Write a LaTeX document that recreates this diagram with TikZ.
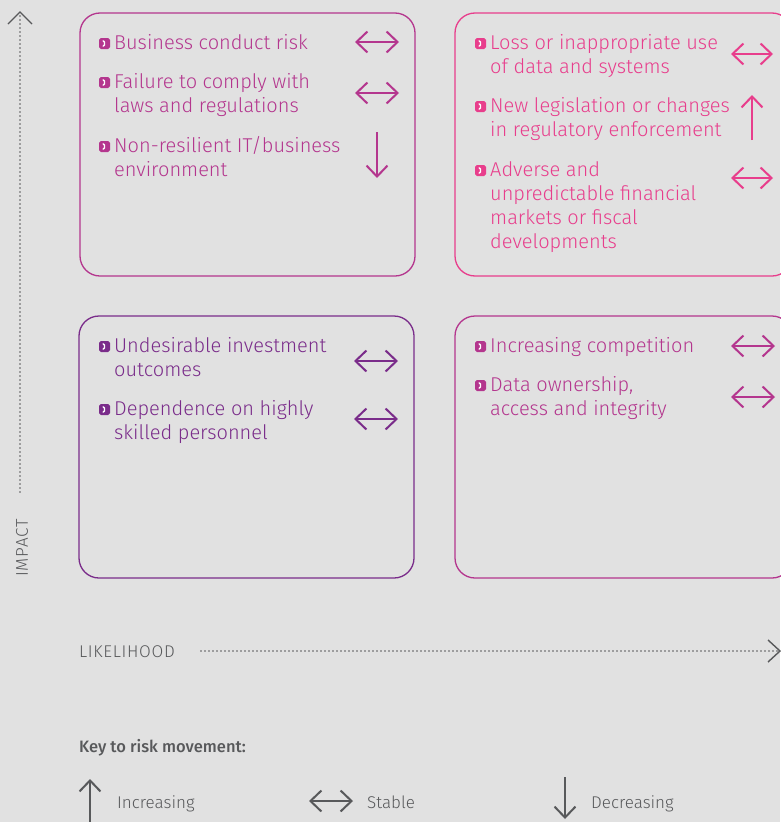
\documentclass[tikz,border=0pt]{standalone}
\usepackage{fontspec}
\setmainfont{Fira Sans}[UprightFont=* Light, BoldFont=* Medium]
\usetikzlibrary{arrows.meta,calc}
\definecolor{bg}{HTML}{E1E1E1}
\definecolor{mag}{HTML}{B4368E}
\definecolor{pnk}{HTML}{E83E8C}
\definecolor{prp}{HTML}{7A2C8A}
\definecolor{gry}{HTML}{58595B}
\begin{document}
\begin{tikzpicture}[x=1pt,y=-1pt,
  quad/.style={draw=#1, line width=1.3, rounded corners=20},
  item/.style={text=#1, inner sep=0, anchor=base west, align=left,
    font=\fontsize{20}{24}\selectfont},
  bul/.style={fill=#1, rounded corners=1.8, minimum size=11, inner sep=0,
    path picture={\draw[white, line width=1.4, line cap=round, line join=miter]
      ($(path picture bounding box.center)+(-1.3,-2.6)$) -- ++(2.6,2.6) -- ++(-2.6,2.6);}},
  mv/.style={draw=#1, line width=2,
    {Straight Barb[length=11,width=21]}-{Straight Barb[length=11,width=21]}},
  mvend/.style={draw=#1, line width=2, -{Straight Barb[length=11,width=21]}},
  dots/.style={draw=gry, line width=1.7, line cap=round, dash pattern=on 0pt off 4pt},
  axlbl/.style={text=gry, inner sep=0, font=\fontsize{17}{20}\selectfont\addfontfeature{LetterSpace=4}},
  key/.style={text=gry, inner sep=0, anchor=base west, font=\fontsize{17}{20}\selectfont},
]
\fill[bg] (0,0) rectangle (780,822);
\useasboundingbox (0,0) rectangle (780,822);

% quadrants
\draw[quad=mag] (80,13) rectangle (415,276);
\draw[quad=pnk] (455,13) rectangle (792,276);
\draw[quad=prp] (79,316) rectangle (414,578);
\draw[quad=mag] (455,316) rectangle (792,578);

% top-left (node base = baseline of last line)
\node[item=mag] (t1) at (114,49) {Business conduct risk};
\node[item=mag] (t2) at (114,112) {Failure to comply with\\laws and regulations};
\node[item=mag] (t3) at (114,176) {Non-resilient IT/business\\environment};
\foreach \n/\k in {t1/0,t2/1,t3/1}{\node[bul=mag] at ($(\n.base west)+(-9.5,-5.5-24*\k)$) {};}
\draw[mv=mag] (355,42) -- (399,42);
\draw[mv=mag] (355,93) -- (399,93);
\draw[mvend=mag] (377,132) -- (377,178);

% top-right
\node[item=pnk] (r1) at (490,73) {Loss or inappropriate use\\of data and systems};
\node[item=pnk] (r2) at (490,136) {New legislation or changes\\in regulatory enforcement};
\node[item=pnk] (r3) at (490,248) {Adverse and\\unpredictable financial\\markets or fiscal\\developments};
\foreach \n/\k in {r1/1,r2/1,r3/3}{\node[bul=pnk] at ($(\n.base west)+(-9.5,-5.5-24*\k)$) {};}
\draw[mv=pnk] (731,54) -- (773,54);
\draw[mvend=pnk] (752,140) -- (752,95);
\draw[mv=pnk] (731,178) -- (773,178);

% bottom-left
\node[item=prp] (l1) at (114,376) {Undesirable investment\\outcomes};
\node[item=prp] (l2) at (114,439) {Dependence on highly\\skilled personnel};
\foreach \n/\k in {l1/1,l2/1}{\node[bul=prp] at ($(\n.base west)+(-9.5,-5.5-24*\k)$) {};}
\draw[mv=prp] (354,361) -- (398,361);
\draw[mv=prp] (354,419) -- (398,419);

% bottom-right
\node[item=mag] (b1) at (490,352) {Increasing competition};
\node[item=mag] (b2) at (490,415) {Data ownership,\\access and integrity};
\foreach \n/\k in {b1/0,b2/1}{\node[bul=mag] at ($(\n.base west)+(-9.5,-5.5-24*\k)$) {};}
\draw[mv=mag] (731,346) -- (775,346);
\draw[mv=mag] (731,397) -- (775,397);

% axes
\coordinate (ib) at (20,492);
\coordinate (it) at (20,14);
\draw[dots] (ib) -- (it);
\draw[gry, line width=1.4] (8,24) -- (20,12) -- (32,24);
\node[axlbl, rotate=90] (imp) at (22,548) {IMPACT};
\node[axlbl, anchor=west] (lik) at (79,652) {LIKELIHOOD};
\coordinate (ll) at (201,651);
\coordinate (lr) at (777,651);
\draw[dots] (ll) -- (lr);
\draw[gry, line width=1.4] (768,640) -- (780,651) -- (768,662);

% key
\node[text=gry, inner sep=0, anchor=west, font=\fontsize{16.5}{19}\selectfont\bfseries] (k) at (79,748) {Key to risk movement:};
\draw[mvend=gry] (90,822) -- (90,779);
\node[key] (ki) at (117,808) {Increasing};
\draw[mv=gry] (309,801) -- (353,801);
\node[key] (ks) at (367,808) {Stable};
\draw[mvend=gry] (565,777) -- (565,819);
\node[key] (kd) at (591,808) {Decreasing};
\end{tikzpicture}
\end{document}
